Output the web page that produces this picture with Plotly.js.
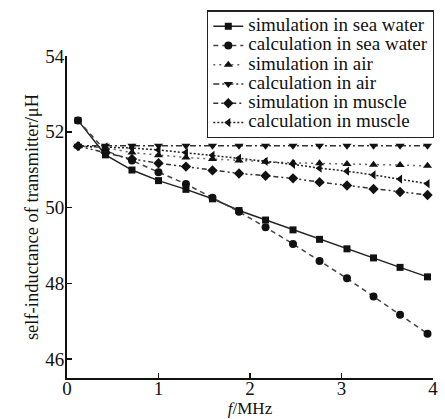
<!DOCTYPE html>
<html>
<head>
<meta charset="utf-8">
<script src="https://cdn.plot.ly/plotly-3.0.1.min.js"></script>
<style>html,body{margin:0;padding:0;background:#fff;}#chart{width:445px;height:419px;}</style>
</head>
<body>
<div id="chart"></div>
<script>
const freq = [0.12, 0.42, 0.71, 1.0, 1.3, 1.59, 1.88, 2.17, 2.47, 2.76, 3.06, 3.35, 3.64, 3.94];
const simSeaWater  = [52.30, 51.39, 50.99, 50.71, 50.48, 50.23, 49.92, 49.67, 49.41, 49.16, 48.91, 48.67, 48.42, 48.17];
const calcSeaWater = [52.30, 51.50, 51.24, 50.93, 50.62, 50.26, 49.89, 49.48, 49.04, 48.59, 48.13, 47.65, 47.17, 46.67];
const simAir       = [51.62, 51.58, 51.45, 51.38, 51.32, 51.28, 51.24, 51.21, 51.18, 51.17, 51.15, 51.13, 51.12, 51.10];
const calcAir      = [51.63, 51.63, 51.63, 51.63, 51.63, 51.63, 51.63, 51.63, 51.63, 51.63, 51.63, 51.63, 51.63, 51.63];
const simMuscle    = [51.62, 51.45, 51.28, 51.17, 51.08, 50.98, 50.90, 50.84, 50.77, 50.67, 50.58, 50.49, 50.41, 50.33];
const calcMuscle   = [51.62, 51.60, 51.57, 51.52, 51.45, 51.38, 51.30, 51.22, 51.14, 51.04, 50.96, 50.86, 50.75, 50.63];
const seriesNames = ["simulation in sea water", "calculation in sea water", "simulation in air",
                     "calculation in air", "simulation in muscle", "calculation in muscle"];

const ink = "#111";
function tr(y, name, dash, symbol, lineColor, markerSize) {
  return {
    x: freq, y: y, type: "scatter", mode: "lines+markers",
    name: '<span style="font-size:19px">' + name + '</span>',
    line: {color: lineColor, width: 1.5, dash: dash},
    marker: {symbol: symbol, size: markerSize, color: ink}
  };
}
const data = [
  tr(simSeaWater,  seriesNames[0], "solid", "square", "#222", 7),
  tr(calcSeaWater, seriesNames[1], "5px,4px", "circle", "#444", 8),
  tr(simAir,       seriesNames[2], "2px,4px", "triangle-up", "#666", 8),
  tr(calcAir,      seriesNames[3], "6px,3px,2px,3px", "triangle-down", "#333", 8),
  tr(simMuscle,    seriesNames[4], "5px,3px,2px,3px,2px,3px", "diamond", "#333", 8),
  tr(calcMuscle,   seriesNames[5], "2px,2px", "triangle-left", "#222", 8)
];
const fam = "Liberation Serif, Times New Roman, serif";
const fnt = {family: fam, size: 19, color: "#111"};
const layout = {
  width: 445, height: 419,
  margin: {l: 67, r: 11, t: 53, b: 41, pad: 0},
  paper_bgcolor: "#fff", plot_bgcolor: "#fff",
  font: fnt,
  showlegend: true,
  legend: {
    x: 1.003, xanchor: "right", y: 1.1415, yanchor: "top",
    bordercolor: "#222", borderwidth: 1.2, bgcolor: "#fff",
    font: {family: fam, size: 12.5, color: "#111"},
    tracegroupgap: 0, itemwidth: 30
  },
  xaxis: {
    range: [0, 4], tickvals: [0, 1, 2, 3, 4], ticktext: ["0", "1", "2", "3", "4"],
    showline: true, linecolor: "#111", linewidth: 2, mirror: false,
    ticks: "inside", ticklen: 5, tickwidth: 1.5, tickcolor: "#111",
    ticklabelstandoff: -8,
    showgrid: false, zeroline: false, automargin: false,
    tickfont: fnt,
    title: {text: "<i>f</i>/MHz", font: {family: fam, size: 17, color: "#111"}, standoff: 2}
  },
  yaxis: {
    range: [45.5, 54], tickvals: [46, 48, 50, 52, 54], ticktext: ["46", "48", "50", "52", "54"],
    showline: true, linecolor: "#111", linewidth: 2, mirror: false,
    ticks: "inside", ticklen: 5, tickwidth: 1.5, tickcolor: "#111",
    ticklabelstandoff: -3,
    showgrid: false, zeroline: false, automargin: false,
    tickfont: fnt,
    title: {text: "self-inductance of transmitter/μH", font: {family: fam, size: 18.5, color: "#111"}, standoff: 2}
  }
};
Plotly.newPlot("chart", data, layout, {displayModeBar: false, staticPlot: true});
</script>
</body>
</html>
